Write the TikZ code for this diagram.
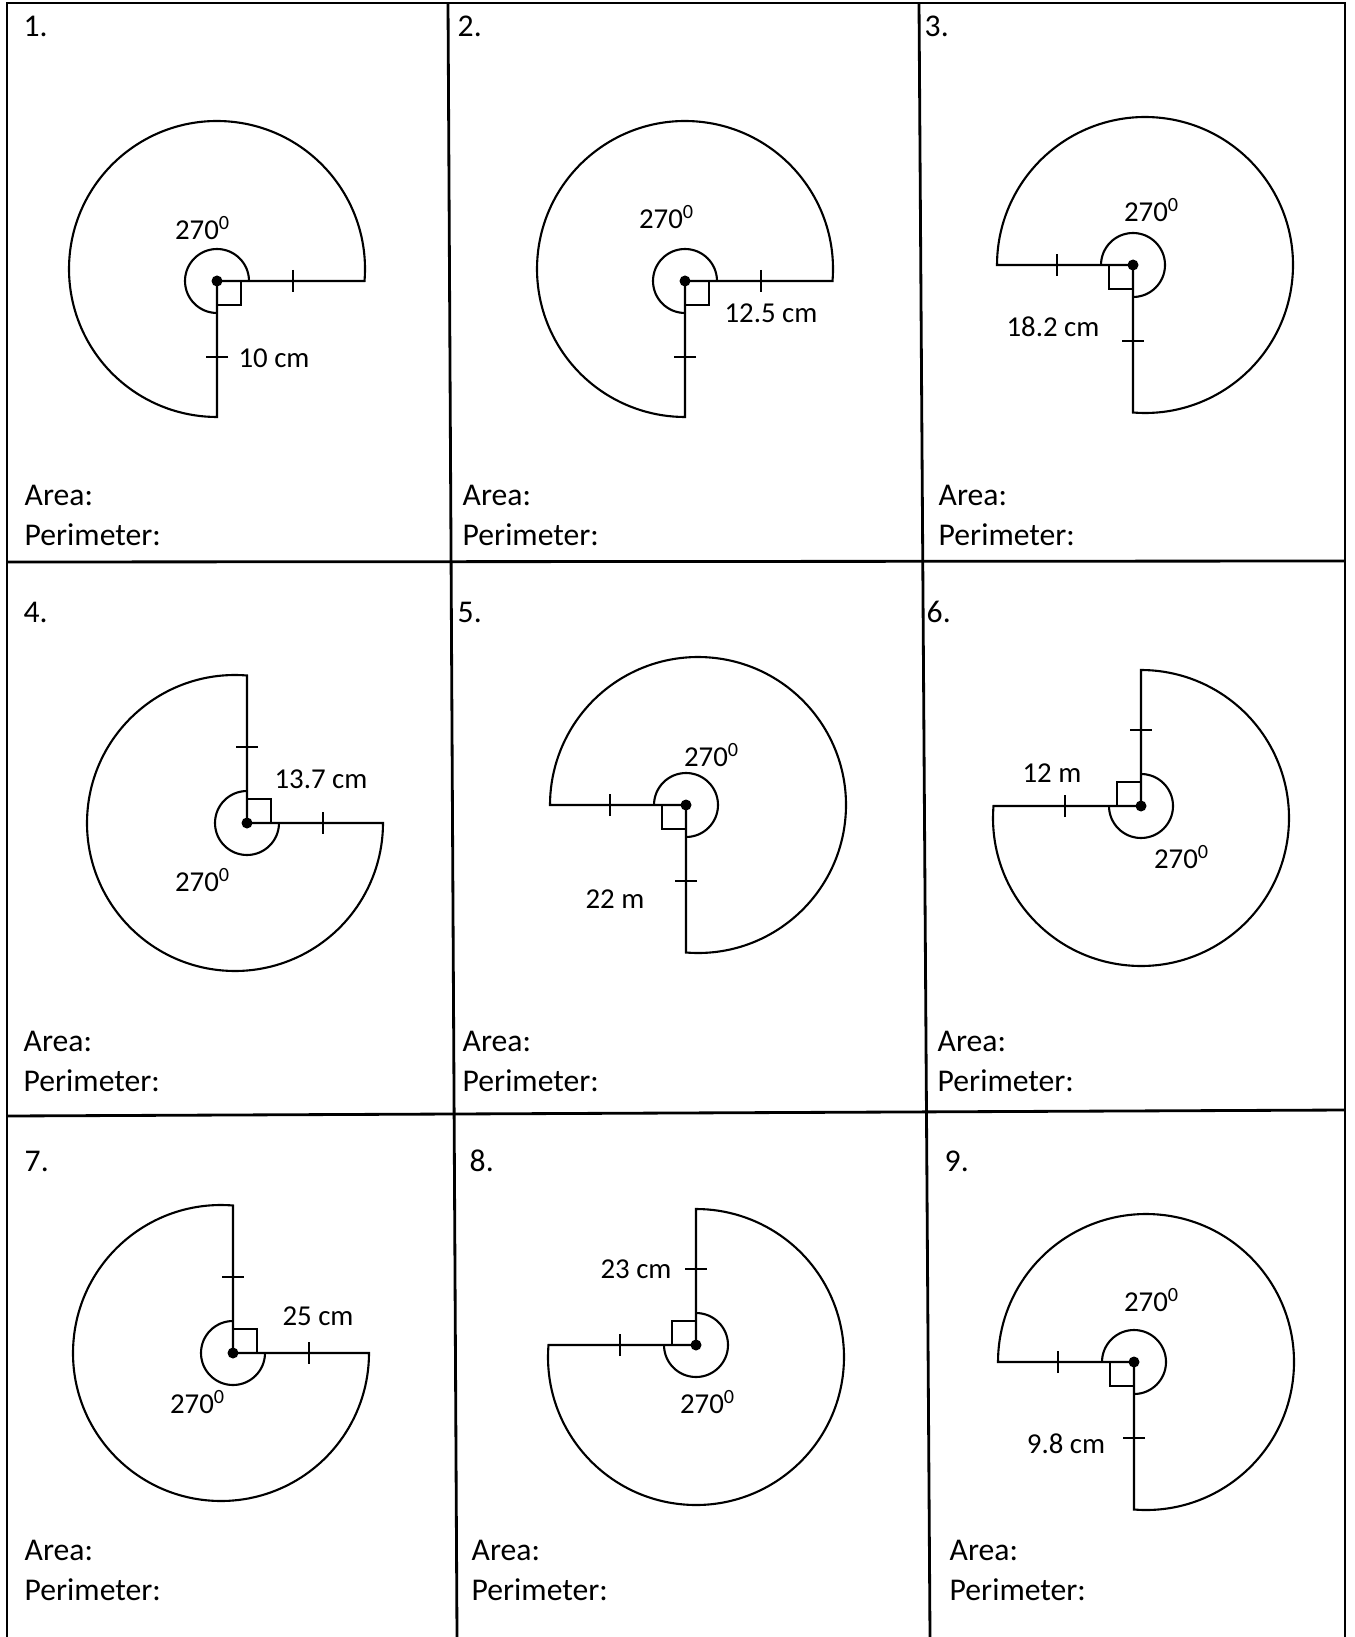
\documentclass[tikz,border=0pt]{standalone}
\usepackage{fontspec}
\setmainfont{Carlito}
\usetikzlibrary{positioning}
\tikzset{
  grid/.style={line width=0.8pt},
  fig/.style={line width=0.6pt},
  num/.style={font=\fontsize{9}{11}\selectfont,inner sep=0pt,anchor=west},
  lab/.style={font=\fontsize{8.2}{10}\selectfont,inner sep=0pt},
  sector/.pic={
    \draw[fig] (0,0) -- (#1:147.5) arc[start angle=#1-4.65,end angle=#1+270,radius=148] -- cycle;
    \draw[fig] (#1:32) arc[start angle=#1,delta angle=270,radius=32];
    \draw[fig] (#1:24) -- ++(#1-90:24) -- ++(#1+180:24);
    \draw[fig] (#1:76) ++(#1+90:11) -- ++(#1-90:22);
    \draw[fig] (#1-90:76) ++(#1:11) -- ++(#1+180:22);
    \fill (0,0) circle (5.5);
  }
}
\begin{document}
\begin{tikzpicture}[x=0.01cm,y=0.01cm]
  \useasboundingbox (0,0) rectangle (1354,-1637);
  \draw[grid] (7,-1637) -- (7,-3) -- (1345,-3) -- (1345,-1637);
  \draw[grid] (448,-3) -- (457,-1637);
  \draw[grid] (919,-3) -- (930,-1637);
  \draw[grid] (7,-562) -- (1345,-561);
  \draw[grid] (7,-1116) -- (1345,-1110);

  \node[num] (n1) at (23,-26) {1.};
  \node[num] (n2) at (457,-26) {2.};
  \node[num] (n3) at (924,-26) {3.};
  \node[num] (n4) at (23,-612) {4.};
  \node[num] (n5) at (457,-612) {5.};
  \node[num] (n6) at (926,-612) {6.};
  \node[num] (n7) at (24,-1161) {7.};
  \node[num] (n8) at (469,-1161) {8.};
  \node[num] (n9) at (944,-1161) {9.};

  \coordinate (c1) at (217,-281);
  \coordinate (c2) at (685,-281);
  \coordinate (c3) at (1133,-265);
  \coordinate (c4) at (247,-823);
  \coordinate (c5) at (686,-805);
  \coordinate (c6) at (1141,-806);
  \coordinate (c7) at (233,-1353);
  \coordinate (c8) at (696,-1345);
  \coordinate (c9) at (1134,-1362);
  \pic (s1) at (c1) {sector=0};
  \pic (s2) at (c2) {sector=0};
  \pic (s3) at (c3) {sector=-90};
  \pic (s4) at (c4) {sector=90};
  \pic (s5) at (c5) {sector=-90};
  \pic (s6) at (c6) {sector=180};
  \pic (s7) at (c7) {sector=90};
  \pic (s8) at (c8) {sector=180};
  \pic (s9) at (c9) {sector=-90};

  \node[lab] (d1) at (203,-228) {270\textsuperscript{0}};
  \node[lab] (m1) at (274,-358) {10 cm};
  \node[lab] (d2) at (667,-217) {270\textsuperscript{0}};
  \node[lab] (m2) at (771,-313) {12.5 cm};
  \node[lab] (d3) at (1152,-210) {270\textsuperscript{0}};
  \node[lab] (m3) at (1053,-327) {18.2 cm};
  \node[lab] (d4) at (203,-880) {270\textsuperscript{0}};
  \node[lab] (m4) at (321,-779) {13.7 cm};
  \node[lab] (d5) at (712,-755) {270\textsuperscript{0}};
  \node[lab] (m5) at (615,-899) {22 m};
  \node[lab] (d6) at (1182,-857) {270\textsuperscript{0}};
  \node[lab] (m6) at (1052,-773) {12 m};
  \node[lab] (d7) at (198,-1402) {270\textsuperscript{0}};
  \node[lab] (m7) at (318,-1316) {25 cm};
  \node[lab] (d8) at (708,-1402) {270\textsuperscript{0}};
  \node[lab] (m8) at (636,-1269) {23 cm};
  \node[lab] (d9) at (1152,-1300) {270\textsuperscript{0}};
  \node[lab] (m9) at (1066,-1444) {9.8 cm};

  \node[num] (a1) at (24,-495) {Area:};
  \node[num] (a2) at (462,-495) {Area:};
  \node[num] (a3) at (938,-495) {Area:};
  \node[num] (a4) at (23,-1041) {Area:};
  \node[num] (a5) at (462,-1041) {Area:};
  \node[num] (a6) at (937,-1041) {Area:};
  \node[num] (a7) at (24,-1550) {Area:};
  \node[num] (a8) at (471,-1550) {Area:};
  \node[num] (a9) at (949,-1550) {Area:};
  \node[num,below right=0.17cm and 0cm of a1.south west] (p1) {Perimeter:};
  \node[num,below right=0.17cm and 0cm of a2.south west] (p2) {Perimeter:};
  \node[num,below right=0.17cm and 0cm of a3.south west] (p3) {Perimeter:};
  \node[num,below right=0.17cm and 0cm of a4.south west] (p4) {Perimeter:};
  \node[num,below right=0.17cm and 0cm of a5.south west] (p5) {Perimeter:};
  \node[num,below right=0.17cm and 0cm of a6.south west] (p6) {Perimeter:};
  \node[num,below right=0.17cm and 0cm of a7.south west] (p7) {Perimeter:};
  \node[num,below right=0.17cm and 0cm of a8.south west] (p8) {Perimeter:};
  \node[num,below right=0.17cm and 0cm of a9.south west] (p9) {Perimeter:};
\end{tikzpicture}
\end{document}
